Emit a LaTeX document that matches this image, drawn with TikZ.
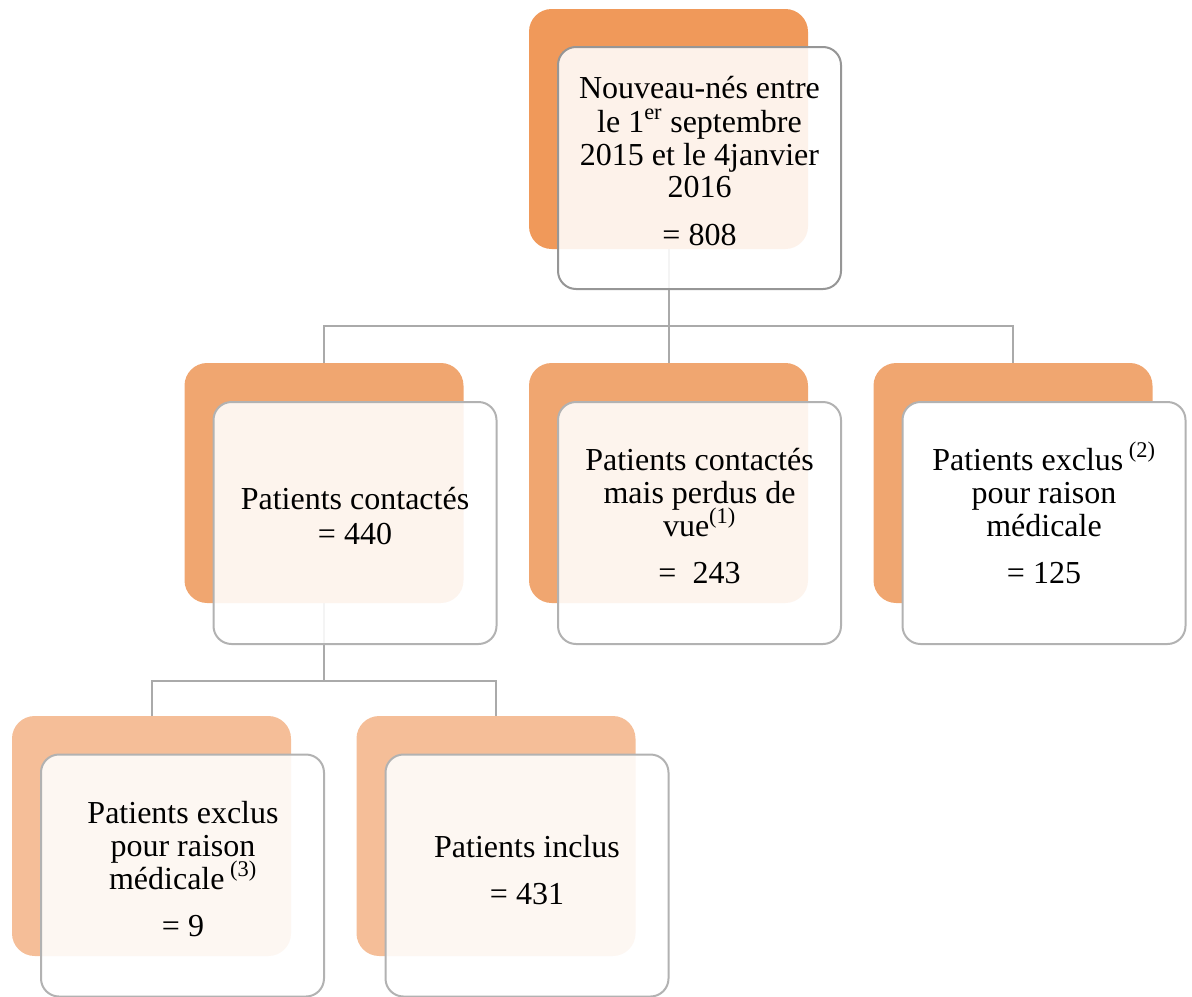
\documentclass[tikz,border=0pt]{standalone}
\usepackage{fontspec}
\setmainfont{Liberation Serif}
\definecolor{orA}{RGB}{240,153,90}
\definecolor{orB}{RGB}{240,166,112}
\definecolor{orC}{RGB}{245,190,152}
\definecolor{lineA}{RGB}{150,150,150}
\definecolor{lineB}{RGB}{178,178,178}
\definecolor{connline}{RGB}{170,170,170}
\begin{document}
\begin{tikzpicture}[x=0.75pt,y=-0.75pt,
  ob/.style={rounded corners=17pt, minimum width=209.25pt, minimum height=180pt, inner sep=0pt, draw=none},
  wb/.style={rounded corners=13.5pt, minimum width=212.25pt, minimum height=181.5pt, inner sep=0pt, draw=lineB, line width=1.5pt, fill=white, fill opacity=0.88, draw opacity=1},
  conn/.style={draw=connline, line width=1.5pt},
  txt/.style={anchor=base, inner sep=0pt, font=\fontsize{24}{28}\selectfont}]
\useasboundingbox (0,0) rectangle (1192,996);

% connectors (behind boxes)
\coordinate (j1) at (668.5,326);
\coordinate (j2) at (324,681);
\coordinate (p1) at (668.5,249);
\coordinate (p2) at (324,603);
\coordinate (c2a) at (324,363);
\coordinate (c2b) at (668.5,363);
\coordinate (c2c) at (1013,363);
\coordinate (c3a) at (151.5,716);
\coordinate (c3b) at (496,716);
\draw[conn] (p1) -- (j1);
\draw[conn] (j1) -| (c2a);
\draw[conn] (j1) -- (c2b);
\draw[conn] (j1) -| (c2c);
\draw[conn] (p2) -- (j2);
\draw[conn] (j2) -| (c3a);
\draw[conn] (j2) -| (c3b);

% orange boxes
\node[ob, fill=orA] (o1) at (668.5,129) {};
\node[ob, fill=orB] (o2a) at (324,483) {};
\node[ob, fill=orB] (o2b) at (668.5,483) {};
\node[ob, fill=orB] (o2c) at (1013,483) {};
\node[ob, fill=orC] (o3a) at (151.5,836) {};
\node[ob, fill=orC] (o3b) at (496,836) {};

% white boxes
\node[wb, draw=lineA] (w1) at (699.5,168) {};
\node[wb] (w2a) at (355,523) {};
\node[wb] (w2b) at (699.5,523) {};
\node[wb, fill opacity=1] (w2c) at (1044,523) {};
\node[wb] (w3a) at (182.5,875.5) {};
\node[wb] (w3b) at (527,875.5) {};

% texts
\node[txt] (t1a) at (699.5,98) {Nouveau-nés entre};
\node[txt] (t1b) at (699.5,132) {le 1\textsuperscript{er} septembre};
\node[txt] (t1c) at (699.5,165) {2015 et le 4janvier};
\node[txt] (t1d) at (699.5,197) {2016};
\node[txt] (t1e) at (699.5,245) {= 808};

\node[txt] (t2aa) at (355,509) {Patients contactés};
\node[txt] (t2ab) at (355,544) {= 440};

\node[txt] (t2ba) at (699.5,470) {Patients contactés};
\node[txt] (t2bb) at (699.5,503) {mais perdus de};
\node[txt] (t2bc) at (699.5,536) {vue\textsuperscript{(1)}};
\node[txt] (t2bd) at (699.5,583) {=\ \ 243};

\node[txt] (t2ca) at (1044,470) {Patients exclus\textsuperscript{\ (2)}};
\node[txt] (t2cb) at (1044,503) {pour raison};
\node[txt] (t2cc) at (1044,536) {médicale};
\node[txt] (t2cd) at (1044,583) {= 125};

\node[txt] (t3aa) at (183,823) {Patients exclus};
\node[txt] (t3ab) at (183,856) {pour raison};
\node[txt] (t3ac) at (183,889) {médicale\textsuperscript{\ (3)}};
\node[txt] (t3ad) at (183,936) {= 9};

\node[txt] (t3ba) at (527,857) {Patients inclus};
\node[txt] (t3bb) at (527,904) {= 431};
\end{tikzpicture}
\end{document}
